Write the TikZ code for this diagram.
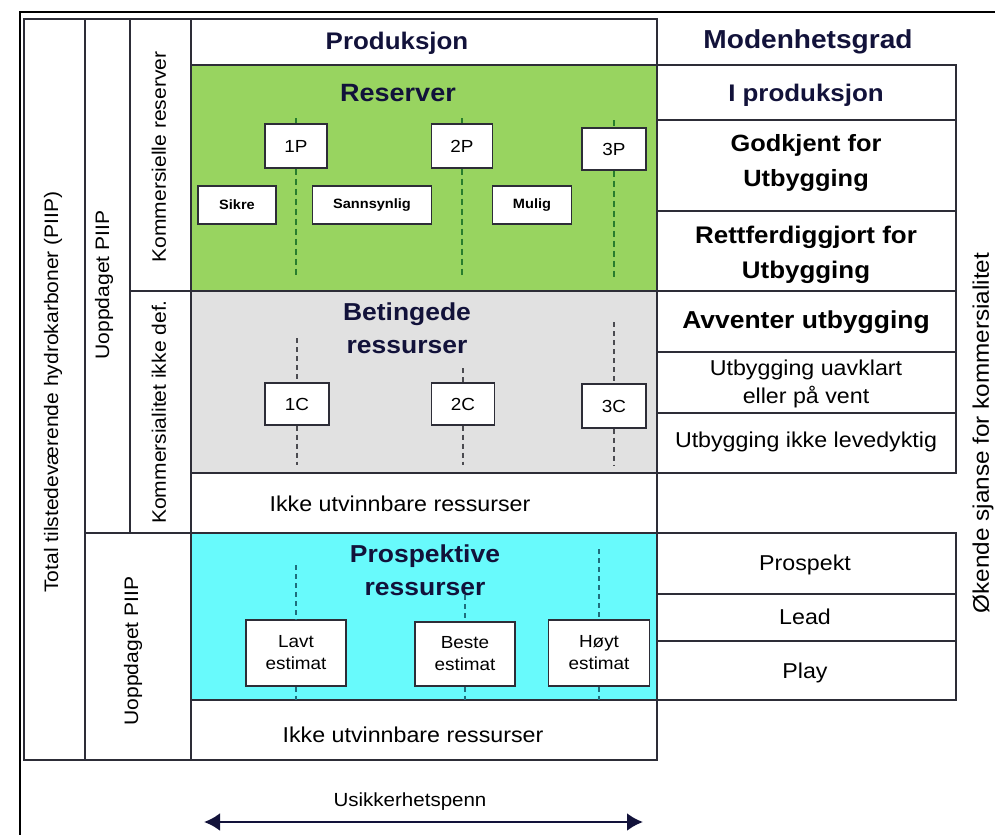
\documentclass[tikz,border=0pt]{standalone}
\usepackage{fontspec}
\setmainfont{Liberation Sans}[FakeStretch=1.08]
\usetikzlibrary{arrows.meta}

\definecolor{gronn}{RGB}{152,212,96}
\definecolor{gra}{RGB}{225,225,225}
\definecolor{turkis}{RGB}{104,250,252}
\definecolor{marine}{RGB}{18,18,58}
\definecolor{strek}{RGB}{45,45,55}
\definecolor{morkgronn}{RGB}{40,125,45}
\definecolor{morkgra}{RGB}{75,75,80}
\definecolor{morkturkis}{RGB}{30,110,125}

\newcommand{\stor}{\fontsize{24}{36}\selectfont}
\newcommand{\halvstor}{\fontsize{24}{35}\selectfont}
\newcommand{\middels}{\fontsize{21.5}{28}\selectfont}
\newcommand{\smal}{\fontsize{19.5}{22}\selectfont}
\newcommand{\boksfont}{\fontsize{17.5}{22}\selectfont}
\newcommand{\liten}{\fontsize{13.5}{15}\selectfont}

\begin{document}
\begin{tikzpicture}[x=1pt, y=-1pt, line width=1.2pt,
  celle/.style={draw=strek},
  boks/.style={draw=strek, fill=white, inner sep=0pt, font=\boksfont},
  merke/.style={draw=strek, fill=white, inner sep=0pt, font=\liten\bfseries},
  tittel/.style={font=\halvstor\bfseries, text=marine, align=center},
  tekst/.style={font=\middels, align=center},
  loddrett/.style={font=\smal, rotate=90},
  gstrek/.style={draw=morkgronn, line width=2pt, dash pattern=on 6pt off 4pt},
  mstrek/.style={draw=morkgra, line width=1.5pt, dash pattern=on 5pt off 4pt},
  tstrek/.style={draw=morkturkis, line width=1.5pt, dash pattern=on 5pt off 4pt}]
  \useasboundingbox (0,0) rectangle (995,835);
  % ramme
  \draw[line width=2.2pt] (995,12) -- (20,12) -- (20,835);
  % fargede felt
  \fill[gronn] (191,65) rectangle (657,291);
  \fill[gra] (191,291) rectangle (657,473);
  \fill[turkis] (191,533) rectangle (657,700);
  % venstre kolonner
  \draw[celle] (24,19) rectangle (85,760);
  \draw[celle] (85,19) rectangle (130,533);
  \draw[celle] (130,19) rectangle (191,291);
  \draw[celle] (130,291) rectangle (191,533);
  \draw[celle] (85,533) rectangle (191,760);
  % midtfelt
  \draw[celle] (191,19) rectangle (657,65);
  \draw[celle] (191,65) rectangle (657,291);
  \draw[celle] (191,291) rectangle (657,473);
  \draw[celle] (191,473) rectangle (657,533);
  \draw[celle] (191,533) rectangle (657,700);
  \draw[celle] (191,700) rectangle (657,760);
  % modenhetsgrad
  \draw[celle] (657,65) rectangle (956,120);
  \draw[celle] (657,120) rectangle (956,211);
  \draw[celle] (657,211) rectangle (956,291);
  \draw[celle] (657,291) rectangle (956,352);
  \draw[celle] (657,352) rectangle (956,413);
  \draw[celle] (657,413) rectangle (956,473);
  \draw[celle] (657,533) rectangle (956,594);
  \draw[celle] (657,594) rectangle (956,641);
  \draw[celle] (657,641) rectangle (956,700);

  % loddrette etiketter
  \node[loddrett] (total) at (53,392) {Total tilstedeværende hydrokarboner (PIIP)};
  \node[loddrett] (uopp1) at (104,285) {Uoppdaget PIIP};
  \node[loddrett] (komres) at (159,157) {Kommersielle reserver};
  \node[loddrett] (komdef) at (159,412) {Kommersialitet ikke def.};
  \node[loddrett] (uopp2) at (133,651) {Uoppdaget PIIP};
  \node[font=\fontsize{22.5}{26}\selectfont, rotate=90] (sjanse) at (983,433) {Økende sjanse for kommersialitet};

  % overskrifter
  \node[font=\stor\bfseries, text=marine] (prod) at (397,43) {Produksjon};
  \node[tittel, font=\fontsize{26}{30}\selectfont\bfseries] (moden) at (808,42) {Modenhetsgrad};
  \node[tittel, font=\fontsize{25}{30}\selectfont\bfseries] (res) at (398,93) {Reserver};
  \node[tittel, font=\fontsize{24.5}{33}\selectfont\bfseries] (bet) at (407,328) {Betingede\\ressurser};
  \node[tittel, font=\fontsize{24.5}{33}\selectfont\bfseries] (pros) at (425,570) {Prospektive\\ressurser};
  \node[tekst] (ikke1) at (400,504) {Ikke utvinnbare ressurser};
  \node[tekst] (ikke2) at (413,735) {Ikke utvinnbare ressurser};

  % modenhet
  \node[font=\stor\bfseries, text=marine] (iprod) at (806,95) {I produksjon};
  \node[tittel, text=black, font=\fontsize{23.5}{35}\selectfont\bfseries] (godk) at (806,163) {Godkjent for\\Utbygging};
  \node[tittel, text=black] (rett) at (806,255) {Rettferdiggjort for\\Utbygging};
  \node[tittel, text=black, font=\fontsize{24.5}{30}\selectfont\bfseries] (avv) at (806,322) {Avventer utbygging};
  \node[tekst] (uavk) at (806,384) {Utbygging uavklart\\eller på vent};
  \node[tekst] (levedy) at (806,442) {Utbygging ikke levedyktig};
  \node[tekst] (prospekt) at (805,565) {Prospekt};
  \node[tekst] (lead) at (805,617) {Lead};
  \node[tekst] (play) at (805,673) {Play};

  % reserver
  \node[boks, minimum width=62pt, minimum height=44pt] (p1) at (296,146) {1P};
  \node[boks, minimum width=61pt, minimum height=44pt] (p2) at (462,146) {2P};
  \node[boks, minimum width=64pt, minimum height=42pt] (p3) at (614,149) {3P};
  \node[merke, minimum width=78pt, minimum height=38pt] (sikre) at (237,205) {Sikre};
  \node[merke, minimum width=119pt, minimum height=38pt] (sann) at (372,205) {Sannsynlig};
  \node[merke, minimum width=79pt, minimum height=38pt] (mulig) at (532,205) {Mulig};
  \coordinate (p1t) at (296,118); \coordinate (p1b) at (296,278);
  \coordinate (p2t) at (462,118); \coordinate (p2b) at (462,278);
  \coordinate (p3t) at (614,120); \coordinate (p3b) at (614,278);
  \foreach \n in {p1,p2,p3} {
    \draw[gstrek] (\n t) -- (\n.north);
    \draw[gstrek] (\n.south) -- (\n b);
  }

  % betingede ressurser
  \node[boks, minimum width=64pt, minimum height=42pt] (c1) at (297,404) {1C};
  \node[boks, minimum width=63pt, minimum height=42pt] (c2) at (463,404) {2C};
  \node[boks, minimum width=64pt, minimum height=44pt] (c3) at (614,406) {3C};
  \coordinate (c1t) at (297,338); \coordinate (c1b) at (297,465);
  \coordinate (c2t) at (463,368); \coordinate (c2b) at (463,465);
  \coordinate (c3t) at (614,322); \coordinate (c3b) at (614,465);
  \foreach \n in {c1,c2,c3} {
    \draw[mstrek] (\n t) -- (\n.north);
    \draw[mstrek] (\n.south) -- (\n b);
  }

  % prospektive ressurser
  \node[boks, align=center, minimum width=100pt, minimum height=66pt] (lavt) at (296,653) {Lavt\\estimat};
  \node[boks, align=center, minimum width=100pt, minimum height=64pt] (beste) at (465,654) {Beste\\estimat};
  \node[boks, align=center, minimum width=101pt, minimum height=66pt] (hoyt) at (599,653) {Høyt\\estimat};
  \coordinate (lavtt) at (296,565); \coordinate (lavtb) at (296,700);
  \coordinate (bestet) at (465,595); \coordinate (besteb) at (465,700);
  \coordinate (hoytt) at (599,549); \coordinate (hoytb) at (599,700);
  \foreach \n in {lavt,beste,hoyt} {
    \draw[tstrek] (\n t) -- (\n.north);
    \draw[tstrek] (\n.south) -- (\n b);
  }

  % usikkerhet
  \node[font=\fontsize{19}{22}\selectfont] (usikker) at (410,802) {Usikkerhetspenn};
  \coordinate (uv) at (204,822);
  \coordinate (uh) at (643,822);
  \draw[{Latex[length=16pt,width=18pt]}-{Latex[length=16pt,width=18pt]}, line width=2.6pt, marine] (uv) -- (uh);
\end{tikzpicture}
\end{document}
